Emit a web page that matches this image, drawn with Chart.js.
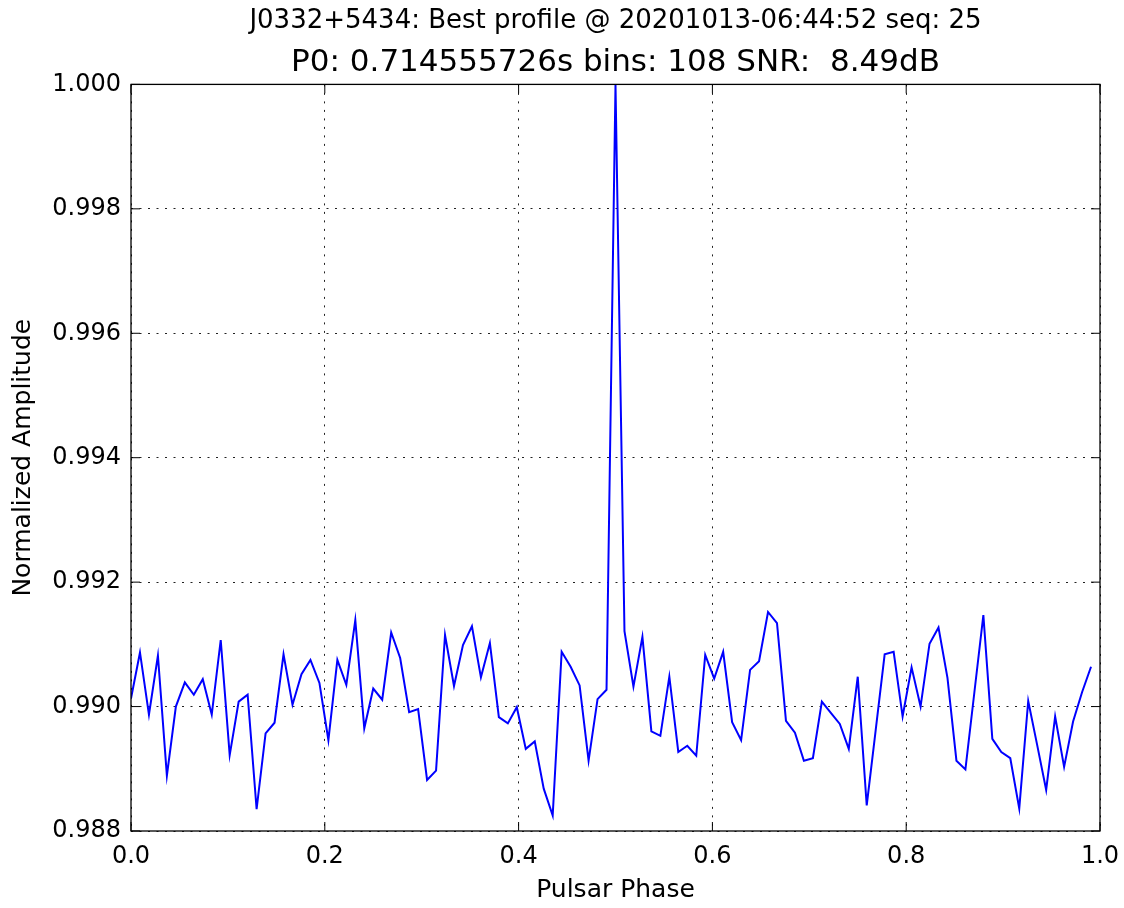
<!DOCTYPE html>
<html>
<head>
<meta charset="utf-8">
<script src="https://cdn.jsdelivr.net/npm/chart.js@4.4.1/dist/chart.umd.min.js"></script>
<style>
  html, body { margin: 0; padding: 0; background: #fff; }
  #wrap { width: 1124px; height: 908px; }
</style>
</head>
<body>
<div id="wrap"><canvas id="profileChart" width="1124" height="908"></canvas></div>
<script>
// Titles
const titleLine1 = "J0332+5434: Best profile @ 20201013-06:44:52 seq: 25";
const titleLine2 = "P0: 0.714555726s bins: 108 SNR:  8.49dB";

// Profile amplitude per bin (108 bins)
const profile = [
    0.99013, 0.99087, 0.98987, 0.99082, 0.98889, 0.99000, 0.99039, 0.99019, 0.99044, 0.98987,
    0.99107, 0.98922, 0.99008, 0.99019, 0.98835, 0.98957, 0.98974, 0.99084, 0.99003, 0.99052,
    0.99075, 0.99038, 0.98946, 0.99075, 0.99035, 0.99139, 0.98965, 0.99029, 0.99011, 0.99119,
    0.99078, 0.98991, 0.98996, 0.98882, 0.98897, 0.99115, 0.99033, 0.99099, 0.99129, 0.99047,
    0.99102, 0.98983, 0.98973, 0.98999, 0.98932, 0.98944, 0.98868, 0.98825, 0.99088, 0.99064,
    0.99034, 0.98913, 0.99012, 0.99027, 1.00000, 0.99121, 0.99032, 0.99112, 0.98960, 0.98953,
    0.99048, 0.98927, 0.98937, 0.98921, 0.99083, 0.99045, 0.99088, 0.98975, 0.98946, 0.99059,
    0.99073, 0.99152, 0.99134, 0.98977, 0.98958, 0.98913, 0.98917, 0.99008, 0.98990, 0.98972,
    0.98932, 0.99048, 0.98841, 0.98962, 0.99084, 0.99088, 0.98984, 0.99063, 0.99000, 0.99101,
    0.99127, 0.99046, 0.98913, 0.98899, 0.99023, 0.99147, 0.98948, 0.98927, 0.98917, 0.98836,
    0.99009, 0.98938, 0.98866, 0.98984, 0.98903, 0.98976, 0.99023, 0.99064
];
const nBins = 108;

// Tick labels
const xTicks = [0.0, 0.2, 0.4, 0.6, 0.8, 1.0];
const yTicks = [0.988, 0.990, 0.992, 0.994, 0.996, 0.998, 1.000];

const FONT = "'DejaVu Sans', sans-serif";

// Phase of each bin
const points = profile.map((v, i) => ({ x: i / nBins, y: v }));

// matplotlib-style frame with inward ticks on all four sides
const framePlugin = {
    id: "frame",
    afterDraw(chart) {
        const { ctx, chartArea, scales } = chart;
        const { left, right, top, bottom } = chartArea;
        const len = 9;
        ctx.save();
        ctx.strokeStyle = "#000";
        ctx.lineWidth = 1.3;
        ctx.strokeRect(left, top, right - left, bottom - top);
        ctx.lineWidth = 1;
        ctx.beginPath();
        xTicks.forEach(v => {
            const px = scales.x.getPixelForValue(v);
            ctx.moveTo(px, bottom); ctx.lineTo(px, bottom - len);
            ctx.moveTo(px, top); ctx.lineTo(px, top + len);
        });
        yTicks.forEach(v => {
            const py = scales.y.getPixelForValue(v);
            ctx.moveTo(left, py); ctx.lineTo(left + len, py);
            ctx.moveTo(right, py); ctx.lineTo(right - len, py);
        });
        ctx.stroke();
        ctx.restore();
    }
};

const gridStyle = {
    color: "#222",
    lineWidth: 1,
    drawTicks: false
};

function initChart() {
    const ctx = document.getElementById("profileChart");

    const config = {
        type: "line",
        data: {
            datasets: [
                {
                    data: points,
                    borderColor: "#0000ff",
                    borderWidth: 2,
                    pointRadius: 0,
                    tension: 0,
                    fill: false,
                },
            ],
        },
        options: {
            responsive: false,
            animation: false,
            layout: { padding: { left: 0, right: 24, top: 0, bottom: 0 } },
            plugins: {
                legend: { display: false },
                tooltip: { enabled: false },
                title: {
                    display: true,
                    text: titleLine1,
                    color: "#000",
                    fullSize: false,
                    font: { family: FONT, size: 26, weight: "normal" },
                    padding: { top: 6, bottom: 7 },
                },
                subtitle: {
                    display: true,
                    text: titleLine2,
                    color: "#000",
                    fullSize: false,
                    font: { family: FONT, size: 31, weight: "normal" },
                    padding: { top: 0, bottom: 3 },
                },
            },
            scales: {
                x: {
                    type: "linear",
                    min: 0,
                    max: 1,
                    afterBuildTicks: scale => { scale.ticks = xTicks.map(v => ({ value: v })); },
                    afterFit: scale => {
                        scale.height = 77;
                        scale.paddingLeft = 0;
                        scale.paddingRight = 0;
                    },
                    ticks: {
                        color: "#000",
                        padding: 11,
                        maxRotation: 0,
                        font: { family: FONT, size: 24 },
                        callback: v => Number(v).toFixed(1),
                    },
                    grid: { ...gridStyle },
                    border: { display: false, dash: [2, 6.5] },
                    title: {
                        display: true,
                        text: "Pulsar Phase",
                        color: "#000",
                        font: { family: FONT, size: 25 },
                        padding: { top: 4, bottom: 3 },
                    },
                },
                y: {
                    min: 0.988,
                    max: 1.0,
                    afterBuildTicks: scale => { scale.ticks = yTicks.map(v => ({ value: v })); },
                    afterFit: scale => {
                        scale.width = 131;
                        scale.paddingTop = 0;
                        scale.paddingBottom = 0;
                    },
                    ticks: {
                        color: "#000",
                        padding: 10,
                        font: { family: FONT, size: 24 },
                        callback: v => Number(v).toFixed(3),
                    },
                    grid: { ...gridStyle },
                    border: { display: false, dash: [2, 6.5] },
                    title: {
                        display: true,
                        text: "Normalized Amplitude",
                        color: "#000",
                        font: { family: FONT, size: 25 },
                        padding: { top: 8, bottom: 4 },
                    },
                },
            },
        },
        plugins: [framePlugin],
    };

    return new Chart(ctx, config);
}

initChart();
</script>
</body>
</html>
